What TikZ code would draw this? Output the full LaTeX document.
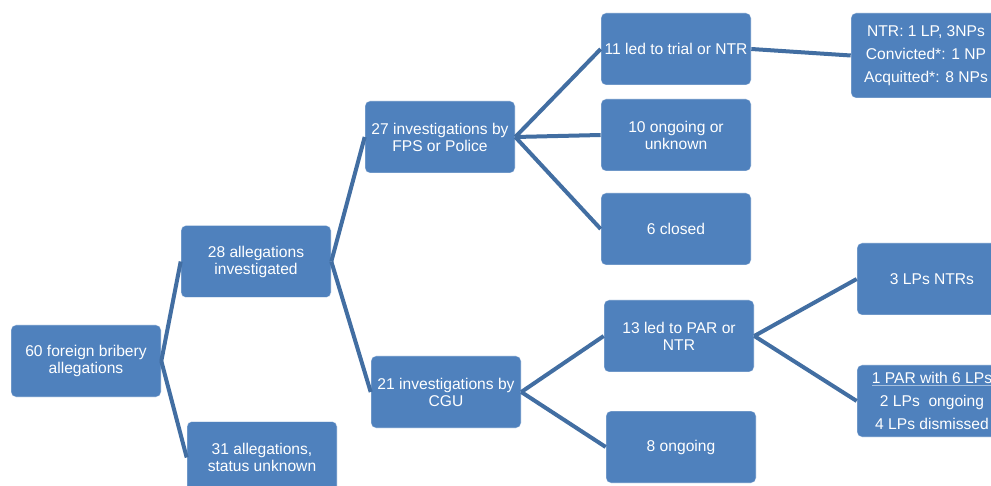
\documentclass[tikz,border=0pt]{standalone}
\usepackage{fontspec}
\setmainfont{Liberation Sans}
\definecolor{boxblue}{RGB}{79,129,189}
\definecolor{lineblue}{RGB}{66,110,162}
\begin{document}
\begin{tikzpicture}[x=1pt,y=-1pt,
  box/.style={rectangle, rounded corners=5pt, fill=boxblue, draw=white, draw opacity=0.5, line width=0.6pt,
    minimum width=150pt, minimum height=72pt, text=white, align=center, inner sep=2pt,
    font=\fontsize{15.6}{17}\selectfont},
  tallbox/.style={box, font=\fontsize{15.6}{23}\selectfont},
  conn/.style={draw=lineblue, line width=4pt}]
\useasboundingbox (0,0) rectangle (991,486);
\clip (0,0) rectangle (991,486);
\node[box] (a) at (86,361) {60 foreign bribery\\allegations};
\node[box] (b) at (256,261.5) {28 allegations\\investigated};
\node[box] (c) at (262,457.5) {31 allegations,\\status unknown};
\node[box] (d) at (440,137) {27 investigations by\\FPS or Police};
\node[box] (e) at (446,392) {21 investigations by\\CGU};
\node[box] (f) at (676,49) {11 led to trial or NTR};
\node[box] (g) at (676,135) {10 ongoing or\\unknown};
\node[box] (h) at (676,229) {6 closed};
\node[box] (i) at (679,336) {13 led to PAR or\\NTR};
\node[box] (j) at (681,447) {8 ongoing};
\node[tallbox, minimum height=85pt] (k) at (926,55.5) {NTR: 1 LP, 3NPs\\Convicted*: 1 NP\\Acquitted*: 8 NPs};
\node[box] (l) at (932,279) {3 LPs NTRs};
\node[tallbox] (m) at (932,401) {\underline{1 PAR with 6 LPs}\\2 LPs~~ongoing\\4 LPs dismissed};
\draw[conn] (a.east) -- (b.west);
\draw[conn] (a.east) -- (c.west);
\draw[conn] (b.east) -- (d.west);
\draw[conn] (b.east) -- (e.west);
\draw[conn] (d.east) -- (f.west);
\draw[conn] (d.east) -- (g.west);
\draw[conn] (d.east) -- (h.west);
\draw[conn] (e.east) -- (i.west);
\draw[conn] (e.east) -- (j.west);
\draw[conn] (f.east) -- (k.west);
\draw[conn] (i.east) -- (l.west);
\draw[conn] (i.east) -- (m.west);
\end{tikzpicture}
\end{document}
